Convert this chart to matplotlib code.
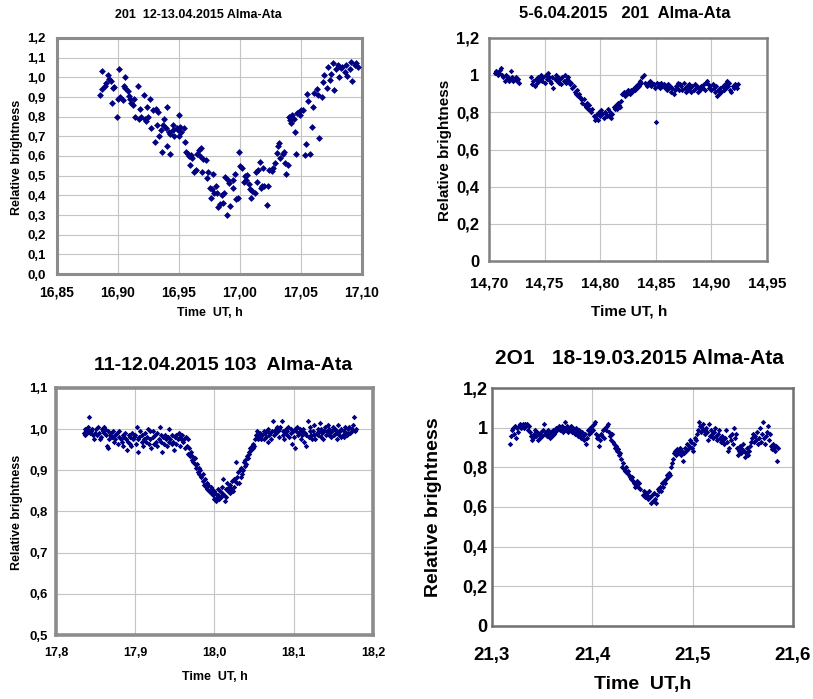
import matplotlib
matplotlib.use("Agg")
import matplotlib.pyplot as plt

plt.rcParams['font.family'] = ['Liberation Sans', 'DejaVu Sans']
plt.rcParams['font.weight'] = 'bold'

W, H = 813, 699
MARK = '#000080'

# ---------------- Panel 1: 201 12-13.04.2015 ----------------
p1_title = "201  12-13.04.2015 Alma-Ata"
p1_x = [16.885, 16.887, 16.887, 16.889, 16.890, 16.892, 16.893, 16.894, 16.895, 16.896,
        16.897, 16.899, 16.900, 16.901, 16.902, 16.904, 16.906, 16.905, 16.906, 16.908,
        16.909, 16.910, 16.911, 16.912, 16.913, 16.914, 16.916, 16.917, 16.918, 16.919,
        16.921, 16.922, 16.923, 16.924, 16.925, 16.926, 16.927, 16.929, 16.930, 16.931,
        16.932, 16.933, 16.934, 16.935, 16.936, 16.937, 16.938, 16.939, 16.940, 16.940,
        16.942, 16.943, 16.943, 16.945, 16.945, 16.946, 16.948, 16.949, 16.950, 16.950,
        16.951, 16.952, 16.954, 16.955, 16.956, 16.957, 16.958, 16.959, 16.960, 16.961,
        16.962, 16.964, 16.965, 16.966, 16.967, 16.968, 16.969, 16.970, 16.972, 16.973,
        16.974, 16.975, 16.976, 16.977, 16.978, 16.979, 16.980, 16.981, 16.982, 16.984,
        16.985, 16.986, 16.987, 16.988, 16.989, 16.990, 16.991, 16.992, 16.994, 16.994,
        16.996, 16.997, 16.998, 16.999, 17.000, 17.002, 17.003, 17.004, 17.005, 17.006,
        17.007, 17.008, 17.009, 17.010, 17.012, 17.013, 17.014, 17.015, 17.016, 17.017,
        17.018, 17.019, 17.020, 17.022, 17.023, 17.024, 17.026, 17.027, 17.029, 17.030,
        17.031, 17.032, 17.033, 17.035, 17.036, 17.037, 17.038, 17.039, 17.040, 17.041,
        17.042, 17.043, 17.044, 17.045, 17.046, 17.047, 17.048, 17.049, 17.050, 17.052,
        17.053, 17.054, 17.055, 17.056, 17.057, 17.059, 17.060, 17.061, 17.063, 17.064,
        17.065, 17.067, 17.068, 17.069, 17.071, 17.072, 17.074, 17.075, 17.076, 17.077,
        17.079, 17.080, 17.081, 17.083, 17.084, 17.086, 17.087, 17.088, 17.090, 17.091,
        17.092, 17.094, 17.095, 17.097]
p1_y = [0.908, 0.94, 1.034, 0.957, 0.97, 1.01, 0.99, 0.98, 0.87, 0.945,
        0.95, 0.80, 0.89, 1.04, 0.90, 0.886, 1.00, 0.957, 0.945, 0.93,
        0.906, 0.89, 0.87, 0.86, 0.89, 0.80, 0.957, 0.79, 0.84, 0.80,
        0.91, 0.79, 0.78, 0.85, 0.80, 0.89, 0.74, 0.835, 0.67, 0.84,
        0.76, 0.825, 0.70, 0.73, 0.62, 0.76, 0.79, 0.74, 0.85, 0.65,
        0.72, 0.71, 0.61, 0.76, 0.73, 0.70, 0.74, 0.73, 0.81, 0.70,
        0.75, 0.72, 0.74, 0.67, 0.62, 0.61, 0.60, 0.555, 0.605, 0.59,
        0.52, 0.53, 0.61, 0.63, 0.60, 0.64, 0.52, 0.585, 0.58, 0.49,
        0.52, 0.435, 0.385, 0.43, 0.51, 0.41, 0.45, 0.41, 0.34, 0.355,
        0.40, 0.36, 0.41, 0.495, 0.30, 0.48, 0.465, 0.345, 0.48, 0.435,
        0.51, 0.38, 0.385, 0.62, 0.55, 0.54, 0.47, 0.50, 0.48, 0.505,
        0.46, 0.43, 0.385, 0.42, 0.41, 0.52, 0.47, 0.53, 0.57, 0.435,
        0.45, 0.54, 0.45, 0.35, 0.45, 0.53, 0.525, 0.54, 0.565, 0.615,
        0.65, 0.665, 0.59, 0.61, 0.62, 0.565, 0.51, 0.555, 0.80, 0.785,
        0.77, 0.81, 0.79, 0.72, 0.61, 0.82, 0.825, 0.81, 0.835, 0.835,
        0.605, 0.66, 0.915, 0.88, 0.61, 0.75, 0.85, 0.92, 0.94, 0.91,
        0.69, 0.90, 0.975, 1.01, 0.945, 1.055, 0.985, 1.015, 1.075, 0.935,
        1.04, 1.065, 1.00, 1.05, 1.055, 1.025, 1.065, 1.005, 1.04, 1.08,
        0.98, 1.065, 1.075, 1.055]
p1_xticks = [16.85, 16.90, 16.95, 17.00, 17.05, 17.10]
p1_xticklabels = ["16,85", "16,90", "16,95", "17,00", "17,05", "17,10"]
p1_yticks = [0.0, 0.1, 0.2, 0.3, 0.4, 0.5, 0.6, 0.7, 0.8, 0.9, 1.0, 1.1, 1.2]
p1_yticklabels = ["0,0", "0,1", "0,2", "0,3", "0,4", "0,5", "0,6", "0,7", "0,8", "0,9", "1,0", "1,1", "1,2"]

# ---------------- Panel 2: 5-6.04.2015 ----------------
p2_title = "5-6.04.2015   201  Alma-Ata"
p2_x = [14.705, 14.706, 14.707, 14.708, 14.709, 14.710, 14.711, 14.712, 14.713, 14.714,
        14.715, 14.716, 14.717, 14.718, 14.719, 14.720, 14.721, 14.722, 14.723, 14.724,
        14.725, 14.726, 14.727,
        14.738, 14.739, 14.740, 14.741, 14.742, 14.743, 14.744, 14.745, 14.746, 14.747,
        14.748, 14.749, 14.750, 14.751, 14.752, 14.753, 14.754, 14.755, 14.756, 14.757,
        14.758, 14.759, 14.760, 14.761, 14.762, 14.763, 14.764, 14.765, 14.766, 14.767,
        14.768, 14.769, 14.770, 14.771, 14.772, 14.773, 14.774, 14.775, 14.776, 14.777,
        14.778, 14.779, 14.780, 14.781, 14.782, 14.783, 14.784, 14.785, 14.786, 14.787,
        14.788, 14.789, 14.790, 14.791, 14.792, 14.793, 14.794, 14.795, 14.796, 14.797,
        14.798, 14.799, 14.800, 14.801, 14.802, 14.803, 14.804, 14.805, 14.806, 14.807,
        14.808, 14.809, 14.810, 14.811, 14.812, 14.813, 14.814, 14.815, 14.816, 14.817,
        14.818, 14.819, 14.820, 14.821, 14.822, 14.823, 14.824, 14.825, 14.826, 14.827,
        14.828, 14.829, 14.830, 14.831, 14.832, 14.833, 14.834, 14.835, 14.836, 14.837,
        14.838, 14.839, 14.840, 14.841, 14.842, 14.843, 14.844, 14.845, 14.846, 14.847,
        14.848, 14.849, 14.850, 14.851, 14.852, 14.853, 14.854, 14.855, 14.856, 14.857,
        14.858, 14.859, 14.860, 14.861, 14.862, 14.863, 14.864, 14.865, 14.866, 14.867,
        14.868, 14.869, 14.870, 14.871, 14.872, 14.873, 14.874, 14.875, 14.876, 14.877,
        14.878, 14.879, 14.880, 14.881, 14.882, 14.883, 14.884, 14.885, 14.886, 14.887,
        14.888, 14.889, 14.890, 14.891, 14.892, 14.893, 14.894, 14.895, 14.896, 14.897,
        14.898, 14.899, 14.900, 14.901, 14.902, 14.903, 14.904, 14.905, 14.906, 14.907,
        14.908, 14.909, 14.910, 14.911, 14.912, 14.913, 14.914, 14.915, 14.916, 14.917,
        14.918, 14.919, 14.920, 14.921, 14.922, 14.923, 14.924]
p2_y = [1.01, 1.02, 1.01, 1.00, 1.01, 1.03, 1.04, 1.00, 0.99, 0.97,
        1.00, 0.98, 0.99, 0.97, 0.98, 1.02, 0.99, 0.97, 0.98, 0.99,
        0.97, 0.98, 0.96,
        0.99, 0.95, 0.97, 0.94, 0.98, 0.96, 0.99, 0.97, 0.98, 1.00,
        0.97, 0.99, 0.96, 1.00, 0.98, 1.01, 0.99, 0.97, 0.96, 0.99,
        0.93, 0.98, 1.00, 0.97, 0.99, 0.96, 0.98, 0.95, 0.99, 0.97,
        1.00, 0.96, 0.98, 0.99, 0.97, 0.95, 0.96, 0.93, 0.94, 0.91,
        0.90, 0.92, 0.89, 0.90, 0.88, 0.87, 0.85, 0.87, 0.84, 0.83,
        0.85, 0.82, 0.84, 0.81, 0.80, 0.82, 0.78, 0.76, 0.77, 0.79,
        0.76, 0.80, 0.78, 0.81, 0.79, 0.77, 0.80, 0.79, 0.78, 0.82,
        0.78, 0.80, 0.77, 0.79, 0.83, 0.82, 0.84, 0.82, 0.85, 0.84,
        0.83, 0.86, 0.90, 0.91, 0.89, 0.91, 0.90, 0.92, 0.91, 0.90,
        0.92, 0.91, 0.93, 0.92, 0.94, 0.93, 0.95, 0.94, 0.97, 0.96,
        0.99, 1.00, 0.96, 0.95, 0.94, 0.96, 0.95, 0.97, 0.94, 0.96,
        0.95, 0.93, 0.75, 0.96, 0.94, 0.95, 0.93, 0.96, 0.94, 0.95,
        0.93, 0.94, 0.92, 0.95, 0.93, 0.94, 0.91, 0.93, 0.90, 0.92,
        0.94, 0.93, 0.96, 0.92, 0.95, 0.94, 0.92, 0.96, 0.93, 0.91,
        0.94, 0.92, 0.95, 0.93, 0.91, 0.94, 0.92, 0.95, 0.93, 0.94,
        0.91, 0.93, 0.92, 0.94, 0.93, 0.95, 0.92, 0.96, 0.97, 0.95,
        0.93, 0.94, 0.92, 0.95, 0.93, 0.91, 0.94, 0.89, 0.92, 0.90,
        0.93, 0.91, 0.94, 0.92, 0.95, 0.93, 0.97, 0.94, 0.96, 0.92,
        0.91, 0.94, 0.93, 0.95, 0.94, 0.93, 0.95]
p2_xticks = [14.70, 14.75, 14.80, 14.85, 14.90, 14.95]
p2_xticklabels = ["14,70", "14,75", "14,80", "14,85", "14,90", "14,95"]
p2_yticks = [0.0, 0.2, 0.4, 0.6, 0.8, 1.0, 1.2]
p2_yticklabels = ["0", "0,2", "0,4", "0,6", "0,8", "1", "1,2"]

# ---------------- Panel 3: 11-12.04.2015 ----------------
p3_title = "11-12.04.2015 103  Alma-Ata"
p3_x = [17.835, 17.836, 17.837, 17.838, 17.839, 17.840, 17.841, 17.842, 17.843, 17.844,
        17.846, 17.847, 17.848, 17.849, 17.850, 17.852, 17.853, 17.854, 17.855, 17.857,
        17.858, 17.859, 17.860, 17.861, 17.862, 17.863, 17.864, 17.865, 17.866, 17.867,
        17.868, 17.870, 17.871, 17.872, 17.873, 17.874, 17.875, 17.877, 17.878, 17.879,
        17.880, 17.882, 17.883, 17.884, 17.885, 17.886, 17.887, 17.888, 17.889, 17.891,
        17.892, 17.893, 17.894, 17.895, 17.896, 17.897, 17.899, 17.900, 17.901, 17.902,
        17.903, 17.904, 17.905, 17.906, 17.908, 17.909, 17.910, 17.911, 17.912, 17.914,
        17.915, 17.916, 17.917, 17.918, 17.919, 17.920, 17.922, 17.923, 17.924, 17.925,
        17.926, 17.927, 17.928, 17.930, 17.931, 17.932, 17.933, 17.934, 17.935, 17.936,
        17.938, 17.939, 17.940, 17.941, 17.942, 17.943, 17.944, 17.946, 17.947, 17.948,
        17.949, 17.950, 17.951, 17.952, 17.954, 17.955, 17.956, 17.957, 17.958, 17.959,
        17.960, 17.962, 17.963, 17.964, 17.965, 17.966, 17.967, 17.968, 17.969, 17.970,
        17.971, 17.972, 17.973, 17.975, 17.976, 17.977, 17.978, 17.979, 17.980, 17.981,
        17.982, 17.983, 17.985, 17.986, 17.987, 17.988, 17.989, 17.990, 17.991, 17.992,
        17.993, 17.995, 17.996, 17.997, 17.998, 17.999, 18.000, 18.001, 18.002, 18.003,
        18.004, 18.005, 18.006, 18.007, 18.008, 18.009, 18.010, 18.011, 18.012, 18.013,
        18.014, 18.015, 18.016, 18.017, 18.018, 18.019, 18.020, 18.021, 18.022, 18.023,
        18.024, 18.025, 18.026, 18.027, 18.028, 18.029, 18.030, 18.031, 18.032, 18.033,
        18.034, 18.035, 18.036, 18.037, 18.038, 18.039, 18.040, 18.041, 18.042, 18.043,
        18.044, 18.045, 18.046, 18.047, 18.048, 18.049, 18.050, 18.051, 18.052, 18.053,
        18.054, 18.055, 18.056, 18.057, 18.058, 18.059, 18.060, 18.062, 18.063, 18.064,
        18.065, 18.066, 18.067, 18.068, 18.069, 18.070, 18.071, 18.072, 18.074, 18.075,
        18.076, 18.077, 18.078, 18.079, 18.080, 18.081, 18.082, 18.083, 18.085, 18.086,
        18.087, 18.088, 18.089, 18.090, 18.091, 18.092, 18.093, 18.094, 18.096, 18.097,
        18.098, 18.099, 18.100, 18.101, 18.102, 18.103, 18.104, 18.105, 18.107, 18.108,
        18.109, 18.110, 18.111, 18.112, 18.113, 18.114, 18.115, 18.116, 18.118, 18.119,
        18.120, 18.121, 18.122, 18.123, 18.124, 18.125, 18.126, 18.127, 18.129, 18.130,
        18.131, 18.132, 18.133, 18.134, 18.135, 18.136, 18.137, 18.138, 18.140, 18.141,
        18.142, 18.143, 18.144, 18.145, 18.146, 18.147, 18.148, 18.149, 18.151, 18.152,
        18.153, 18.154, 18.155, 18.156, 18.157, 18.158, 18.159, 18.160, 18.162, 18.163,
        18.164, 18.165, 18.166, 18.167, 18.168, 18.169, 18.170, 18.171, 18.173, 18.174,
        18.175, 18.176, 18.177, 18.178]
p3_y = [0.99, 0.985, 1.00, 0.995, 0.99, 1.005, 1.00, 1.03, 0.99, 0.995,
        1.00, 0.985, 0.975, 0.99, 1.00, 0.985, 1.005, 0.99, 0.975, 0.98,
        1.00, 0.995, 1.005, 0.99, 1.00, 0.985, 0.96, 0.995, 0.955, 0.975,
        0.985, 0.99, 0.98, 0.995, 0.97, 0.985, 0.975, 0.99, 0.965, 0.98,
        0.995, 0.975, 0.97, 0.985, 0.96, 0.98, 0.99, 0.975, 0.95, 0.97,
        0.985, 0.965, 0.98, 0.96, 0.99, 0.975, 0.98, 0.985, 0.965, 1.005,
        0.975, 0.945, 0.98, 0.995, 0.97, 0.985, 0.96, 0.975, 0.99, 0.97,
        0.98, 1.00, 0.965, 0.995, 0.975, 0.955, 0.98, 0.995, 0.965, 0.985,
        0.97, 0.96, 0.99, 0.975, 1.005, 0.985, 0.97, 0.945, 0.98, 0.965,
        0.985, 0.975, 0.96, 0.98, 0.97, 1.00, 0.975, 0.965, 0.985, 0.97,
        0.95, 0.98, 0.965, 0.985, 0.975, 0.99, 0.96, 0.98, 0.975, 0.985,
        0.97, 0.975, 0.955, 0.98, 0.96, 0.975, 0.94, 0.955, 0.935, 0.945,
        0.925, 0.935, 0.92, 0.915, 0.93, 0.905, 0.915, 0.895, 0.905, 0.89,
        0.90, 0.885, 0.89, 0.875, 0.865, 0.88, 0.86, 0.87, 0.855, 0.865,
        0.85, 0.86, 0.845, 0.855, 0.84, 0.85, 0.83, 0.845, 0.825, 0.835,
        0.855, 0.84, 0.83, 0.85, 0.835, 0.845, 0.86, 0.88, 0.84, 0.825,
        0.855, 0.835, 0.87, 0.85, 0.86, 0.845, 0.865, 0.855, 0.875, 0.85,
        0.88, 0.86, 0.875, 0.92, 0.87, 0.885, 0.895, 0.87, 0.90, 0.885,
        0.905, 0.89, 0.90, 0.92, 0.91, 0.925, 0.915, 0.935, 0.93, 0.945,
        0.94, 0.955, 0.95, 0.96, 0.955, 0.965, 0.96, 0.975, 0.985, 0.995,
        0.98, 0.975, 0.985, 0.98, 0.99, 0.975, 0.985, 0.995, 0.975, 0.99,
        0.98, 0.995, 0.97, 1.00, 0.985, 0.99, 0.975, 0.995, 1.02, 0.985,
        0.995, 1.00, 0.99, 1.005, 0.995, 0.98, 1.00, 1.005, 1.02, 0.985,
        0.995, 0.975, 0.99, 1.00, 0.985, 0.995, 1.005, 0.98, 1.00, 0.99,
        0.965, 0.995, 0.98, 1.00, 0.955, 0.995, 1.005, 0.985, 0.99, 1.00,
        0.975, 0.995, 0.985, 1.00, 0.97, 0.99, 0.96, 0.985, 1.02, 0.98,
        0.995, 1.005, 0.985, 0.975, 0.995, 0.985, 1.01, 0.975, 0.99, 1.00,
        0.985, 0.995, 1.015, 0.98, 1.00, 0.99, 0.975, 0.995, 1.005, 0.985,
        0.995, 1.01, 0.985, 1.00, 0.99, 0.98, 0.995, 1.005, 0.985, 1.00,
        0.99, 0.975, 0.995, 1.01, 0.985, 0.995, 0.98, 1.00, 0.985, 0.995,
        0.98, 1.005, 0.99, 0.985, 1.00, 0.99, 1.005, 0.99, 1.00, 0.995,
        1.01, 1.03, 0.995, 1.00]
p3_xticks = [17.8, 17.9, 18.0, 18.1, 18.2]
p3_xticklabels = ["17,8", "17,9", "18,0", "18,1", "18,2"]
p3_yticks = [0.5, 0.6, 0.7, 0.8, 0.9, 1.0, 1.1]
p3_yticklabels = ["0,5", "0,6", "0,7", "0,8", "0,9", "1,0", "1,1"]

# ---------------- Panel 4: 18-19.03.2015 ----------------
p4_title = "2O1   18-19.03.2015 Alma-Ata"
p4_x = [21.318, 21.319, 21.320, 21.321, 21.322, 21.323, 21.324, 21.325, 21.326, 21.327,
        21.328, 21.329, 21.330, 21.331, 21.332, 21.333, 21.334, 21.335, 21.336, 21.337,
        21.338, 21.339, 21.340, 21.341, 21.342, 21.343, 21.344, 21.345, 21.346, 21.347,
        21.348, 21.349, 21.350, 21.351, 21.352, 21.353, 21.354, 21.355, 21.356, 21.357,
        21.358, 21.359, 21.360, 21.361, 21.362, 21.363, 21.364, 21.365, 21.366, 21.367,
        21.368, 21.369, 21.370, 21.371, 21.372, 21.373, 21.374, 21.375, 21.376, 21.377,
        21.378, 21.379, 21.380, 21.381, 21.382, 21.383, 21.384, 21.385, 21.386, 21.387,
        21.388, 21.389, 21.390, 21.391, 21.392, 21.393, 21.394, 21.395, 21.396, 21.397,
        21.398, 21.399, 21.400, 21.401, 21.402, 21.403, 21.404, 21.405, 21.406, 21.407,
        21.408, 21.409, 21.410, 21.411, 21.412, 21.413, 21.414, 21.415, 21.416, 21.417,
        21.418, 21.419, 21.420, 21.421, 21.422, 21.423, 21.424, 21.425, 21.426, 21.427,
        21.428, 21.429, 21.430, 21.431, 21.432, 21.433, 21.434, 21.435, 21.436, 21.437,
        21.438, 21.439, 21.440, 21.441, 21.442, 21.443, 21.444, 21.445, 21.446, 21.447,
        21.448, 21.450, 21.451, 21.452, 21.453, 21.454, 21.455, 21.456, 21.457, 21.458,
        21.459, 21.460, 21.461, 21.462, 21.463, 21.464, 21.465, 21.466, 21.467, 21.468,
        21.469, 21.470, 21.471, 21.472, 21.473, 21.474, 21.475, 21.476, 21.477, 21.478,
        21.479, 21.480, 21.481, 21.482, 21.483, 21.484, 21.485, 21.486, 21.487, 21.488,
        21.489, 21.490, 21.491, 21.492, 21.493, 21.494, 21.495, 21.496, 21.497, 21.498,
        21.499, 21.500, 21.501, 21.502, 21.503, 21.504, 21.505, 21.506, 21.507, 21.508,
        21.509, 21.510, 21.511, 21.512, 21.513, 21.514, 21.515, 21.516, 21.517, 21.518,
        21.519, 21.520, 21.521, 21.522, 21.523, 21.524, 21.525, 21.526, 21.527, 21.528,
        21.529, 21.530, 21.531, 21.532, 21.533, 21.534, 21.535, 21.536, 21.537, 21.538,
        21.539, 21.540, 21.541, 21.542, 21.543, 21.544, 21.545, 21.546, 21.547, 21.548,
        21.549, 21.550, 21.551, 21.552, 21.553, 21.554, 21.555, 21.556, 21.557, 21.558,
        21.559, 21.560, 21.561, 21.562, 21.563, 21.564, 21.565, 21.566, 21.567, 21.568,
        21.569, 21.570, 21.571, 21.572, 21.573, 21.574, 21.575, 21.576, 21.577, 21.578,
        21.579, 21.580, 21.581, 21.582, 21.583, 21.584, 21.585]
p4_y = [0.92, 0.96, 0.99, 1.00, 0.97, 1.01, 0.95, 1.00, 0.98, 1.01,
        1.02, 1.00, 1.01, 1.02, 1.00, 1.02, 1.01, 1.02, 0.99, 1.01,
        0.98, 0.96, 0.94, 0.95, 0.97, 0.99, 0.96, 0.98, 0.94, 0.97,
        0.95, 0.98, 0.96, 0.99, 1.02, 0.97, 0.98, 0.96, 0.99, 0.97,
        0.95, 0.98, 0.96, 0.99, 0.97, 0.98, 1.00, 0.99, 1.00, 1.01,
        0.99, 1.00, 1.01, 0.98, 1.00, 1.03, 0.99, 1.01, 0.98, 1.00,
        0.99, 1.01, 0.98, 1.00, 0.99, 0.97, 1.00, 0.98, 0.96, 0.99,
        0.97, 0.95, 0.98, 0.96, 0.94, 0.97, 0.92, 0.95, 0.99, 0.97,
        1.00, 0.98, 1.01, 0.99, 1.02, 1.03, 0.97, 0.95, 0.96, 0.91,
        0.94, 0.97, 0.96, 0.99, 0.95, 1.00, 0.99, 1.01, 1.02, 0.98,
        0.96, 0.94, 0.97, 0.93, 0.92, 0.90, 0.91, 0.88, 0.89, 0.86,
        0.87, 0.84, 0.80, 0.82, 0.79, 0.78, 0.80, 0.77, 0.78, 0.76,
        0.75, 0.74, 0.75, 0.73, 0.72, 0.70, 0.71, 0.73, 0.70, 0.72,
        0.69, 0.66, 0.68, 0.65, 0.67, 0.66, 0.64, 0.68, 0.65, 0.62,
        0.66, 0.63, 0.67, 0.64, 0.62, 0.66, 0.69, 0.68, 0.70, 0.68,
        0.72, 0.70, 0.73, 0.72, 0.74, 0.76, 0.75, 0.77, 0.76, 0.80,
        0.82, 0.84, 0.87, 0.88, 0.86, 0.89, 0.87, 0.88, 0.90, 0.86,
        0.88, 0.83, 0.87, 0.90, 0.88, 0.92, 0.89, 0.91, 0.94, 0.93,
        0.90, 0.88, 0.92, 0.95, 0.94, 0.97, 0.99, 1.03, 1.01, 0.98,
        1.00, 1.02, 0.99, 0.97, 1.00, 0.98, 0.94, 1.02, 0.96, 0.99,
        0.97, 0.95, 0.98, 1.00, 0.96, 0.94, 0.97, 0.99, 0.95, 0.93,
        0.96, 0.94, 0.92, 0.95, 0.99, 0.93, 0.88, 0.90, 0.96, 0.94,
        0.97, 0.92, 1.00, 0.95, 0.97, 0.90, 0.86, 0.88, 0.91, 0.87,
        0.89, 0.92, 0.88, 0.85, 0.87, 0.90, 0.86, 0.88, 0.91, 0.93,
        0.95, 0.97, 0.93, 0.96, 0.94, 0.98, 0.92, 0.95, 1.00, 0.93,
        0.97, 1.03, 0.95, 0.92, 0.96, 0.98, 1.01, 0.94, 0.97, 0.91,
        0.89, 0.92, 0.90, 0.88, 0.91, 0.83, 0.90]
p4_xticks = [21.3, 21.4, 21.5, 21.6]
p4_xticklabels = ["21,3", "21,4", "21,5", "21,6"]
p4_yticks = [0.0, 0.2, 0.4, 0.6, 0.8, 1.0, 1.2]
p4_yticklabels = ["0", "0,2", "0,4", "0,6", "0,8", "1", "1,2"]

xlabel_std = "Time  UT, h"
ylabel_std = "Relative brightness"

fig = plt.figure(figsize=(W / 100, H / 100), dpi=100)
fig.patch.set_facecolor('white')


def make_axes(l, t, r, b):
    return fig.add_axes([l / W, 1 - b / H, (r - l) / W, (b - t) / H])


def style(ax, box, x, y, xt, xtl, yt, ytl, xlim, ylim, title, title_xy, title_fs,
          xlabel, xlabel_xy, ylabel, ylabel_xy, label_fs, xtick_fs, ytick_fs,
          xpad, ypad, ms, spine_w, spine_c):
    l, t, r, b = box
    ax.plot(x, y, linestyle='none', marker='D', markersize=ms, color=MARK,
            markeredgewidth=0, zorder=3)
    ax.set_xlim(*xlim)
    ax.set_ylim(*ylim)
    ax.set_xticks(xt)
    ax.set_xticklabels(xtl, fontsize=xtick_fs, fontweight='bold')
    ax.set_yticks(yt)
    ax.set_yticklabels(ytl, fontsize=ytick_fs, fontweight='bold')
    ax.tick_params(axis='x', length=0, pad=xpad)
    ax.tick_params(axis='y', length=0, pad=ypad)
    ax.grid(True, color='#c4c4c4', linewidth=0.8, zorder=0)
    ax.set_axisbelow(True)
    for s in ax.spines.values():
        s.set_color(spine_c)
        s.set_linewidth(spine_w)
    tx, ty = title_xy
    ax.set_title(title, x=(tx - l) / (r - l), y=(b - ty) / (b - t), pad=0,
                 fontsize=title_fs, fontweight='bold', va='center', ha='center')
    ax.set_xlabel(xlabel, fontsize=label_fs, fontweight='bold', va='center')
    ax.xaxis.set_label_coords(xlabel_xy[0] / W, 1 - xlabel_xy[1] / H,
                              transform=fig.transFigure)
    ax.set_ylabel(ylabel, fontsize=label_fs, fontweight='bold', va='center')
    ax.yaxis.set_label_coords(ylabel_xy[0] / W, 1 - ylabel_xy[1] / H,
                              transform=fig.transFigure)


# Panel 1
box1 = (57, 38, 362, 274)
ax1 = make_axes(*box1)
style(ax1, box1, p1_x, p1_y, p1_xticks, p1_xticklabels, p1_yticks, p1_yticklabels,
      (16.85, 17.10), (0.0, 1.2), p1_title, (198, 15), 9,
      xlabel_std, (210, 313), ylabel_std, (17, 157), 9, 10, 9.5,
      8, 8, 3.5, 2.2, '#8c8c8c')

# Panel 2
box2 = (489, 38, 767, 261)
ax2 = make_axes(*box2)
style(ax2, box2, p2_x, p2_y, p2_xticks, p2_xticklabels, p2_yticks, p2_yticklabels,
      (14.70, 14.95), (0.0, 1.2), p2_title, (625, 13), 12,
      "Time UT, h", (629, 312), ylabel_std, (445, 150), 11, 11, 12,
      11, 7, 2.8, 1.8, '#808080')

# Panel 3
box3 = (56, 388, 373, 635)
ax3 = make_axes(*box3)
style(ax3, box3, p3_x, p3_y, p3_xticks, p3_xticklabels, p3_yticks, p3_yticklabels,
      (17.8, 18.2), (0.5, 1.1), p3_title, (223, 365), 14,
      xlabel_std, (215, 677), ylabel_std, (17, 512), 9, 9, 9.5,
      9, 6, 2.8, 2.6, '#8c8c8c')

# Panel 4
box4 = (492, 388, 793, 626)
ax4 = make_axes(*box4)
style(ax4, box4, p4_x, p4_y, p4_xticks, p4_xticklabels, p4_yticks, p4_yticklabels,
      (21.3, 21.6), (0.0, 1.2), p4_title, (639, 358), 15,
      "Time  UT,h", (643, 685), ylabel_std, (433, 507), 14, 13.5, 13,
      15, 3, 2.8, 1.8, '#707070')

fig.savefig('out.png', dpi=100, facecolor='white')
